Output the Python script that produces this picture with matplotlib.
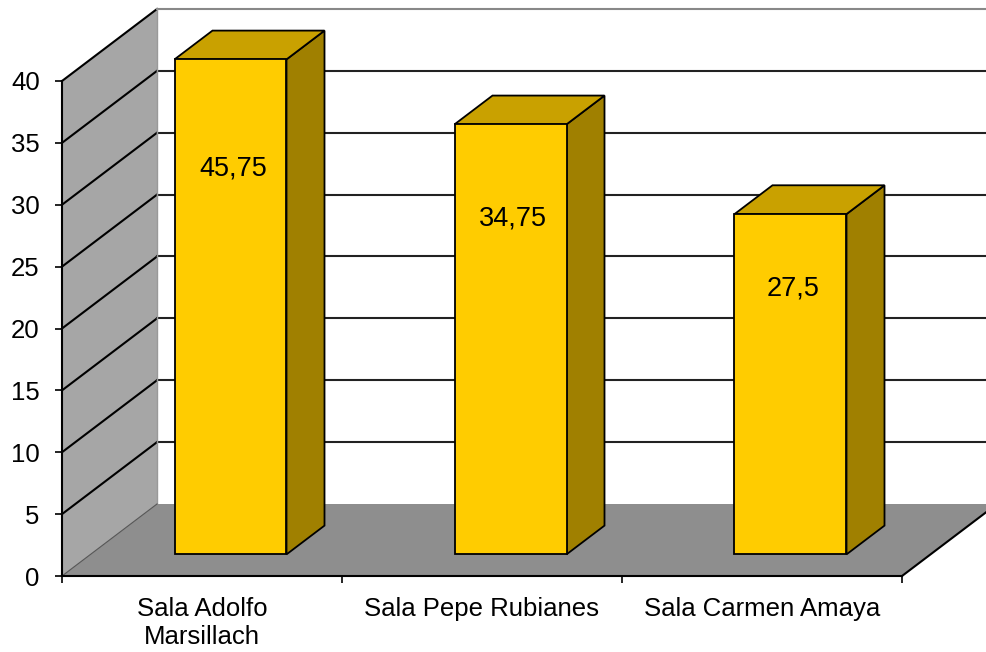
import numpy as np
import matplotlib.pyplot as plt
from matplotlib.patches import Polygon

plt.rcParams['font.family'] = ['Liberation Sans', 'DejaVu Sans']

# Datos
salas = ["Sala Adolfo\nMarsillach", "Sala Pepe Rubianes", "Sala Carmen Amaya"]
valores = [45.75, 34.75, 27.5]
etiquetas = ["45,75", "34,75", "27,5"]
ymax = 40
yticks = np.arange(0, 41, 5)

# Geometría 3D (proyección oblicua)
prof_x = 95 / 280        # desplazamiento horizontal del fondo (unidades de categoría)
prof_y = 72 / 12.375     # desplazamiento vertical del fondo (unidades de valor)
ancho = 0.4              # ancho de barra
z0, z1 = 0.3, 0.7        # profundidad de las barras
n = len(salas)

# Colores
c_frente = '#FFCC00'
c_techo = '#C9A100'
c_lado = '#A08000'
c_pared = '#A6A6A6'
c_suelo = '#8E8E8E'


def p(x, y, z):
    return (x + z * prof_x, y + z * prof_y)


fig = plt.figure(figsize=(9.87, 6.52), dpi=100)
ax = fig.add_axes([0, 0, 1, 1])
ax.set_xlim(-62 / 280, 925 / 280)
ax.set_ylim(-76 / 12.375, 576 / 12.375)

# Paredes y suelo
ax.add_patch(Polygon([p(0, 0, 0), p(0, ymax, 0), p(0, ymax, 1), p(0, 0, 1)],
                     closed=True, facecolor=c_pared, edgecolor='none', zorder=1))
ax.add_patch(Polygon([p(0, 0, 1), p(n + 1, 0, 1), p(n + 1, ymax, 1), p(0, ymax, 1)],
                     closed=True, facecolor='white', edgecolor='none', zorder=1))
ax.add_patch(Polygon([p(0, 0, 0), p(n, 0, 0), p(n, 0, 1), p(0, 0, 1)],
                     closed=True, facecolor=c_suelo, edgecolor='none', zorder=2))

# Líneas de división
for v in yticks[1:]:
    a, b = p(0, v, 0), p(0, v, 1)
    ax.plot([a[0], b[0]], [a[1], b[1]], color='black', lw=1.5, zorder=1.5)
    c = p(n + 1, v, 1)
    ax.plot([b[0], c[0]], [b[1], c[1]], color='#222222' if v < ymax else '#888888',
            lw=1.5, zorder=1.5)
a, b = p(0, 0, 1), p(0, ymax, 1)
ax.plot([a[0], b[0]], [a[1], b[1]], color='#999999', lw=1, zorder=1.6)
a, b = p(0, 0, 0), p(0, 0, 1)
ax.plot([a[0], b[0]], [a[1], b[1]], color='#555555', lw=0.8, zorder=2.5)
a, b = p(n, 0, 0), p(n, 0, 1)
ax.plot([a[0], b[0]], [a[1], b[1]], color='black', lw=1.5, zorder=2.5)

# Barras
for i, v in enumerate(valores):
    h = min(v, ymax)
    x0 = i + 0.5 - ancho / 2
    x1 = x0 + ancho
    frente = [p(x0, 0, z0), p(x1, 0, z0), p(x1, h, z0), p(x0, h, z0)]
    techo = [p(x0, h, z0), p(x1, h, z0), p(x1, h, z1), p(x0, h, z1)]
    lado = [p(x1, 0, z0), p(x1, 0, z1), p(x1, h, z1), p(x1, h, z0)]
    for cara, col in [(lado, c_lado), (techo, c_techo), (frente, c_frente)]:
        ax.add_patch(Polygon(cara, closed=True, facecolor=col, edgecolor='black',
                             lw=1.3, joinstyle='miter', zorder=3))
    xt, yt = p((x0 + x1) / 2 + 0.01, 0.78 * h, z0)
    ax.text(xt, yt, etiquetas[i], ha='center', va='center', fontsize=19.5, zorder=4)

# Ejes
for s in ['top', 'right']:
    ax.spines[s].set_visible(False)
ax.spines['left'].set_position(('data', 0))
ax.spines['bottom'].set_position(('data', 0))
ax.spines['left'].set_bounds(0, ymax)
ax.spines['bottom'].set_bounds(0, n)
for s in ['left', 'bottom']:
    ax.spines[s].set_linewidth(1.5)
    ax.spines[s].set_zorder(5)

ax.set_yticks(yticks)
ax.set_yticklabels([str(t) for t in yticks])
ax.set_xticks(np.arange(n + 1))
ax.set_xticklabels([])
ax.set_xticks(np.arange(n) + 0.5, minor=True)
ax.set_xticklabels(salas, minor=True)
ax.tick_params(axis='y', direction='out', length=5, width=1.2, pad=11, labelsize=18.5)
ax.tick_params(axis='x', which='major', direction='out', length=5, width=1.2)
ax.tick_params(axis='x', which='minor', length=0, pad=15, labelsize=18.5)
for lbl in ax.get_xminorticklabels():
    lbl.set_linespacing(1.2)

fig.savefig('out.png', dpi=100)
